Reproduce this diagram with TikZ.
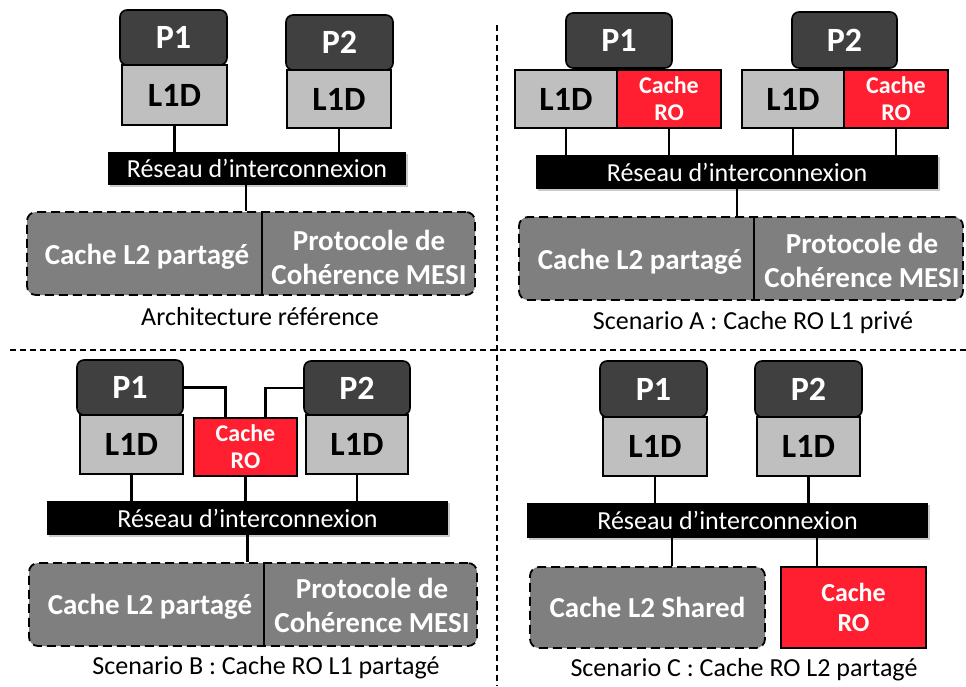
\documentclass[tikz,border=0pt]{standalone}
\usepackage{fontspec}
\setmainfont{Carlito}
\usetikzlibrary{shadows}
\definecolor{procgray}{HTML}{404040}
\definecolor{l1gray}{HTML}{BFBFBF}
\definecolor{l2gray}{HTML}{7F7F7F}
\definecolor{rored}{HTML}{FF1F30}
\tikzset{
  box/.style={draw=black, line width=1.6pt, inner sep=0pt, anchor=center},
  proc/.style={box, rounded corners=7pt, fill=procgray, text=white, font=\bfseries\fontsize{34}{38}\selectfont},
  lone/.style={box, fill=l1gray, text=black, font=\bfseries\fontsize{34}{38}\selectfont},
  robox/.style={box, fill=rored, text=white, align=center, font=\bfseries\fontsize{24}{27}\selectfont},
  net/.style={fill=black, text=white, inner sep=0pt, font=\fontsize{26}{30}\selectfont,
    drop shadow={shadow xshift=2pt, shadow yshift=-2pt, opacity=0.35, fill=black!60}},
  ltwo/.style={draw=black, line width=1.8pt, dash pattern=on 9pt off 5pt, rounded corners=9pt, fill=l2gray, inner sep=0pt},
  ltext/.style={text=white, align=center, font=\bfseries\fontsize{29}{34}\selectfont},
  caption/.style={text=black, font=\fontsize{26}{30}\selectfont},
  conn/.style={draw=black, line width=2.6pt},
  divider/.style={draw=black, line width=2.6pt},
  sep/.style={draw=black, line width=1.5pt, dash pattern=on 6pt off 4pt},
}
\begin{document}
\begin{tikzpicture}[x=1pt, y=-1pt]
\useasboundingbox (0,0) rectangle (966,686);

% separators
\coordinate (vt) at (497,25);
\coordinate (vb) at (497,686);
\coordinate (hl) at (10,350);
\coordinate (hr) at (966,350);
\draw[sep] (vt) -- (vb);
\draw[sep] (hl) -- (hr);

% ---------- Panel 1: Architecture reference ----------
\node[proc, minimum width=107pt, minimum height=55pt] (p1a) at (173.5,37.5) {P1};
\node[lone, minimum width=105pt, minimum height=60pt] (l1a) at (174.5,95) {L1D};
\node[proc, minimum width=107pt, minimum height=55pt] (p2a) at (339.5,42.5) {P2};
\node[lone, minimum width=104pt, minimum height=58pt] (l1a2) at (339,99) {L1D};
\node[net, minimum width=298pt, minimum height=33pt] (neta) at (257,168.5) {Réseau d’interconnexion};
\node[ltwo, minimum width=448pt, minimum height=83pt] (l2a) at (251,253.5) {};
\coordinate (dva) at (262,212);
\draw[divider] (dva) -- (dva |- l2a.south);
\node[ltext] (l2at) at (147,257) {Cache L2 partagé};
\node[ltext] (mesia) at (369,257) {Protocole de\\Cohérence MESI};
\node[caption] (capa) at (260,317) {Architecture référence};
\draw[conn] (l1a.south) -- (l1a.south |- neta.north);
\draw[conn] (l1a2.south) -- (l1a2.south |- neta.north);
\draw[conn] ([xshift=-11pt]neta.south) -- ([xshift=-11pt]neta.south |- l2a.north);

% ---------- Panel 2: Scenario A ----------
\node[proc, minimum width=106pt, minimum height=55pt] (p1b) at (619,40.5) {P1};
\node[lone, minimum width=102pt, minimum height=58pt] (l1b) at (566,99) {L1D};
\node[robox, minimum width=104pt, minimum height=58pt] (rob) at (669,99) {Cache\\RO};
\node[proc, minimum width=105pt, minimum height=56pt] (p2b) at (844.5,40) {P2};
\node[lone, minimum width=102pt, minimum height=58pt] (l1b2) at (793,99) {L1D};
\node[robox, minimum width=104pt, minimum height=58pt] (rob2) at (896,99) {Cache\\RO};
\node[net, minimum width=402pt, minimum height=34pt] (netb) at (737,172) {Réseau d’interconnexion};
\node[ltwo, minimum width=444pt, minimum height=83pt] (l2b) at (741,258.5) {};
\coordinate (dvb) at (754,217);
\draw[divider] (dvb) -- (dvb |- l2b.south);
\node[ltext] (l2bt) at (640,262) {Cache L2 partagé};
\node[ltext] (mesib) at (862,260) {Protocole de\\Cohérence MESI};
\node[caption] (capb) at (753,323) {Scenario A : Cache RO L1 privé};
\draw[conn] (l1b.south) -- (l1b.south |- netb.north);
\draw[conn] (rob.south) -- (rob.south |- netb.north);
\draw[conn] (l1b2.south) -- (l1b2.south |- netb.north);
\draw[conn] (rob2.south) -- (rob2.south |- netb.north);
\draw[conn] (netb.south) -- (netb.south |- l2b.north);

% ---------- Panel 3: Scenario B ----------
\node[proc, minimum width=106pt, minimum height=55pt] (p1c) at (130,387.5) {P1};
\node[lone, minimum width=103pt, minimum height=59pt] (l1c) at (131.5,444.5) {L1D};
\node[robox, minimum width=103pt, minimum height=58pt] (roc) at (245.5,447) {Cache\\RO};
\node[proc, minimum width=106pt, minimum height=54pt] (p2c) at (357,388) {P2};
\node[lone, minimum width=102pt, minimum height=59pt] (l1c2) at (357,444.5) {L1D};
\node[net, minimum width=401pt, minimum height=34pt] (netc) at (247.5,518) {Réseau d’interconnexion};
\node[ltwo, minimum width=448pt, minimum height=83pt] (l2c) at (253,604.5) {};
\coordinate (dvc) at (264,563);
\draw[divider] (dvc) -- (dvc |- l2c.south);
\node[ltext] (l2ct) at (150,607) {Cache L2 partagé};
\node[ltext] (mesic) at (372,605) {Protocole de\\Cohérence MESI};
\node[caption] (capc) at (266,668) {Scenario B : Cache RO L1 partagé};
\draw[conn, line width=2.2pt] (p1c.east) -| ([xshift=-20pt]roc.north);
\draw[conn, line width=2.2pt] (p2c.west) -| ([xshift=20pt]roc.north);
\draw[conn] (l1c.south) -- (l1c.south |- netc.north);
\draw[conn] (roc.south) -- (roc.south |- netc.north);
\draw[conn] (l1c2.south) -- (l1c2.south |- netc.north);
\draw[conn] (netc.south) -- (netc.south |- l2c.north);

% ---------- Panel 4: Scenario C ----------
\node[proc, minimum width=107pt, minimum height=56pt] (p1d) at (653.5,389) {P1};
\node[lone, minimum width=104pt, minimum height=59pt] (l1d) at (655,446.5) {L1D};
\node[proc, minimum width=107pt, minimum height=56pt] (p2d) at (808.5,389) {P2};
\node[lone, minimum width=103pt, minimum height=59pt] (l1d2) at (808.5,446.5) {L1D};
\node[net, minimum width=401pt, minimum height=35pt] (netd) at (727.5,520.5) {Réseau d’interconnexion};
\node[ltwo, minimum width=235pt, minimum height=81pt, text=white, font=\bfseries\fontsize{29}{34}\selectfont] (l2d) at (647.5,607.5) {Cache L2 Shared};
\node[robox, minimum width=145pt, minimum height=81pt, font=\bfseries\fontsize{26}{30}\selectfont] (rod) at (853.5,607.5) {Cache\\RO};
\node[caption] (capd) at (744,670) {Scenario C : Cache RO L2 partagé};
\draw[conn] (l1d.south) -- (l1d.south |- netd.north);
\draw[conn] (l1d2.south) -- (l1d2.south |- netd.north);
\draw[conn] ([xshift=24.5pt]l2d.north) -- ([xshift=24.5pt]l2d.north |- netd.south);
\draw[conn] ([xshift=-36.5pt]rod.north) -- ([xshift=-36.5pt]rod.north |- netd.south);
\end{tikzpicture}
\end{document}
